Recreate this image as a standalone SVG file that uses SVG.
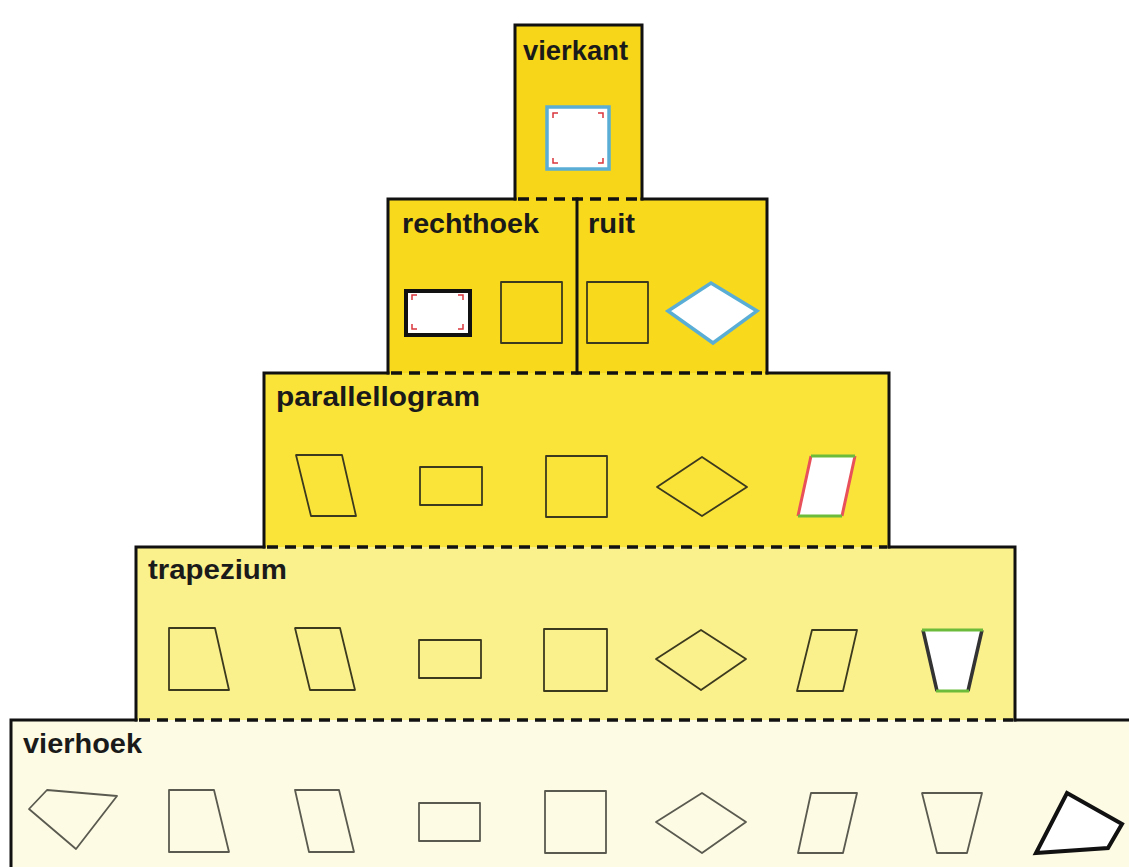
<svg xmlns="http://www.w3.org/2000/svg" width="1129" height="867" viewBox="0 0 1129 867">
<style>
.lbl{font-family:"Liberation Sans","Arial",sans-serif;font-weight:bold;font-size:27px;fill:#1a1a1a}
.edge{stroke:#111;stroke-width:3;fill:none;stroke-linecap:square}
.dash{stroke:#111;stroke-width:3.5;fill:none;stroke-dasharray:11 7}
.shp{fill:none;stroke:#3c3a1e;stroke-width:1.8;stroke-linejoin:round}
.shpg{fill:none;stroke:#5a5a50;stroke-width:1.8;stroke-linejoin:round}
.mark{fill:none;stroke:#d9363e;stroke-width:1.5}
</style>
<rect width="1129" height="867" fill="#ffffff"/>

<g id="vierhoek">
<rect x="10" y="720" width="1130" height="160" fill="#fdfbe3"/>
<text class="lbl" x="23" y="753" textLength="119" lengthAdjust="spacingAndGlyphs">vierhoek</text>
<polygon class="shpg" points="29,809 47,790 117,796 76,849"/>
<polygon class="shpg" points="169,790 214,790 229,852 169,852"/>
<polygon class="shpg" points="295,790 339,790 354,852 309,852"/>
<rect class="shpg" x="419" y="803" width="61" height="38"/>
<rect class="shpg" x="545" y="791" width="61" height="62"/>
<polygon class="shpg" points="656,822 702,793 746,822 702,853"/>
<polygon class="shpg" points="811,793 857,793 843,853 798,853"/>
<polygon class="shpg" points="922,793 982,793 967,853 937,853"/>
<polygon points="1067,793 1122,824 1108,848 1036,853" fill="#ffffff" stroke="#111" stroke-width="4" stroke-linejoin="miter"/>
</g>

<g id="trapezium">
<rect x="136" y="547" width="880" height="173" fill="#faf08c"/>
<text class="lbl" x="148" y="579" textLength="139" lengthAdjust="spacingAndGlyphs">trapezium</text>
<polygon class="shp" points="169,628 215,628 229,690 169,690"/>
<polygon class="shp" points="295,628 340,628 355,690 310,690"/>
<rect class="shp" x="419" y="640" width="62" height="38"/>
<rect class="shp" x="544" y="629" width="63" height="62"/>
<polygon class="shp" points="656,659 701,630 746,659 701,690"/>
<polygon class="shp" points="812,630 857,630 843,691 797,691"/>
<polygon points="923,630 982,630 968,691 937,691" fill="#ffffff" stroke="none"/>
<line x1="923" y1="630" x2="937" y2="691" stroke="#333" stroke-width="3.5"/>
<line x1="982" y1="630" x2="968" y2="691" stroke="#333" stroke-width="3.5"/>
<line x1="922" y1="630" x2="983" y2="630" stroke="#6dbb3a" stroke-width="3"/>
<line x1="936" y1="691" x2="969" y2="691" stroke="#6dbb3a" stroke-width="3"/>
</g>

<g id="parallellogram">
<rect x="264" y="373" width="625" height="174" fill="#fbe43a"/>
<text class="lbl" x="276" y="406" textLength="204" lengthAdjust="spacingAndGlyphs">parallellogram</text>
<polygon class="shp" points="296,455 342,455 356,516 311,516"/>
<rect class="shp" x="420" y="467" width="62" height="38"/>
<rect class="shp" x="546" y="456" width="61" height="61"/>
<polygon class="shp" points="657,487 702,457 747,487 702,516"/>
<polygon points="811,456 855,456 842,516 798,516" fill="#ffffff" stroke="none"/>
<line x1="811" y1="456" x2="798" y2="516" stroke="#e8505a" stroke-width="3"/>
<line x1="855" y1="456" x2="842" y2="516" stroke="#e8505a" stroke-width="3"/>
<line x1="811" y1="456" x2="855" y2="456" stroke="#6dbb3a" stroke-width="3"/>
<line x1="798" y1="516" x2="842" y2="516" stroke="#6dbb3a" stroke-width="3"/>
</g>

<g id="rechthoek">
<rect x="388" y="199" width="189" height="174" fill="#f9d91c"/>
<text class="lbl" x="402" y="233" textLength="137" lengthAdjust="spacingAndGlyphs">rechthoek</text>
<rect x="406" y="291" width="64" height="44" fill="#ffffff" stroke="#111" stroke-width="4"/>
<path class="mark" d="M412,300 V295 H417 M458,295 H463 V300 M412,324 V329 H417 M458,329 H463 V324"/>
<rect class="shp" x="501" y="282" width="61" height="61"/>
</g>

<g id="ruit">
<rect x="577" y="199" width="190" height="174" fill="#f9d91c"/>
<text class="lbl" x="588" y="233" textLength="47" lengthAdjust="spacingAndGlyphs">ruit</text>
<rect class="shp" x="587" y="282" width="61" height="61"/>
<polygon points="668,311 711,283 757,311 713,343" fill="#ffffff" stroke="#5aaed6" stroke-width="3.5" stroke-linejoin="miter"/>
</g>

<g id="vierkant">
<rect x="515" y="25" width="127" height="174" fill="#f7d518"/>
<text class="lbl" x="523" y="60" textLength="105" lengthAdjust="spacingAndGlyphs">vierkant</text>
<rect x="547" y="107" width="62" height="62" fill="#ffffff" stroke="#5aaed6" stroke-width="3.5"/>
<path class="mark" d="M553,118 V113 H558 M598,113 H603 V118 M553,158 V163 H558 M598,163 H603 V158"/>
</g>

<g id="connectors">
<path class="edge" d="M515,199 V25 H642 V199"/>
<path class="edge" d="M388,373 V199 H515 M642,199 H767 V373"/>
<line class="edge" x1="577" y1="199" x2="577" y2="373"/>
<path class="edge" d="M264,547 V373 H388 M767,373 H889 V547"/>
<path class="edge" d="M136,720 V547 H264 M889,547 H1015 V720"/>
<path class="edge" d="M11,870 V720 H136 M1015,720 H1132"/>
<line class="dash" x1="518" y1="199" x2="640" y2="199"/>
<line class="dash" x1="391" y1="373" x2="765" y2="373"/>
<line class="dash" x1="267" y1="547" x2="887" y2="547"/>
<line class="dash" x1="139" y1="720" x2="1013" y2="720"/>
</g>
</svg>
